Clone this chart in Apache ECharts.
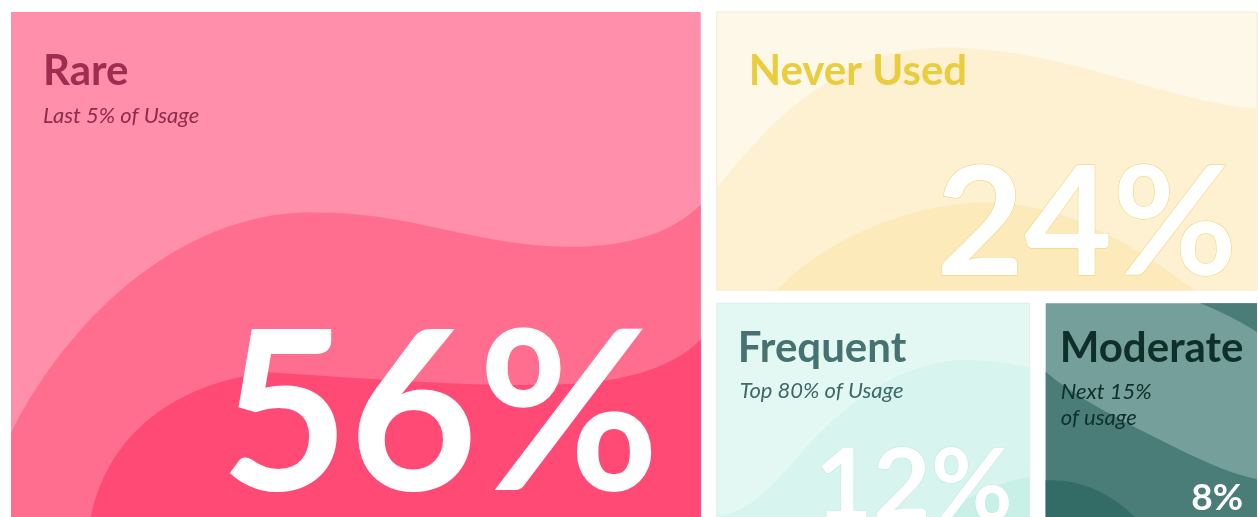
<!DOCTYPE html>
<html>
<head>
<meta charset="utf-8">
<script src="https://cdn.jsdelivr.net/npm/echarts@6/dist/echarts.min.js"></script>
<style>html,body{margin:0;padding:0;background:#fff}#c{width:1258px;height:517px}</style>
</head>
<body>
<div id="c"></div>
<script>
// ---- data ----
const categories = ['Rare', 'Never Used', 'Frequent', 'Moderate'];
const shares = [56, 24, 12, 8];
const subtitles = ['Last 5% of Usage', '', 'Top 80% of Usage', 'Next 15%\nof usage'];

// ---- style (decoration, fonts, colours) ----
const FONT = 'Lato, "Open Sans", sans-serif';
const GAP_X = 16, GAP_Y = 13;
const boxStyle = [
  { // Rare
    ref: [690, 523], bg: '#FF8FAB', border: null,
    layers: [
      { fill: '#FF6E8F', d: 'M0 422 C45 330 149 208 290 201 C389 198 439 226 529 234 C609 240 659 223 690 193 L690 523 L0 523 Z' },
      { fill: '#FF4A76', d: 'M77 523 C89 428 159 373 257 361 C369 368 509 380 589 370 C639 364 674 346 690 328 L690 523 Z' }
    ],
    title: { color: '#9E2D4F', size: 42, x: 32, y: 58 },
    sub: { color: '#8F2B4B', size: 22, x: 32, y: 102.5, lh: 26 },
    num: { size: 222, right: 41, bottom: 126, stroke: null }
  },
  { // Never Used
    ref: [540, 278], bg: '#FEF8E8', border: '#F2EAD2',
    layers: [
      { fill: '#FEF1D2', d: 'M0 176 C30 140 65 95 120 65 C160 38 210 34 250 36 C320 40 380 60 446 78 C490 90 520 96 540 96 L540 278 L0 278 Z' },
      { fill: '#FDEABA', d: 'M60 278 C100 235 180 192 268 190 C350 190 420 235 478 278 Z' }
    ],
    title: { color: '#E9CD3E', size: 42, x: 32, y: 58 },
    sub: null,
    num: { size: 152, right: 20, bottom: 71, stroke: '#EBD36B' }
  },
  { // Frequent
    ref: [311, 232], bg: '#E3F8F3', border: '#D9F0EA',
    layers: [
      { fill: '#D7F5EE', d: 'M0 214 C30 210 50 190 80 155 C140 85 200 55 253 57 C280 58 300 62 311 64 L311 232 L0 232 Z' },
      { fill: '#C8F0E6', d: 'M205 232 C230 205 270 180 311 175 L311 232 Z' }
    ],
    title: { color: '#467272', size: 42, x: 21, y: 43.5 },
    sub: { color: '#3F6868', size: 22, x: 23, y: 87, lh: 26 },
    num: { size: 100, right: 17, bottom: 51, stroke: '#BFE6DD' }
  },
  { // Moderate
    ref: [212, 232], bg: '#759F9A', border: null,
    layers: [
      { fill: '#4A7D77', d: 'M155 0 C175 8 195 18 212 29 L212 0 Z' },
      { fill: '#4A7D77', d: 'M0 69 C30 95 80 120 118 139 C150 155 180 170 212 177 L212 232 L0 232 Z' },
      { fill: '#336C67', d: 'M0 178 C40 176 75 195 105 232 L0 232 Z' }
    ],
    title: { color: '#0F2F2B', size: 42, x: 14, y: 43.5 },
    sub: { color: '#102F2B', size: 22, x: 15, y: 87.5, lh: 26 },
    num: { size: 37, right: 14, bottom: 37.5, stroke: null }
  }
];
const V_CORR = 0.045; // cap-centre correction for 'middle' alignment, in em

// ---- slice-and-dice layout of the shares (in 0..100 axis units) ----
function sliceLayout(vals) {
  const out = [];
  let rect = { x0: 0, y0: 0, x1: 100, y1: 100 };
  let rest = vals.reduce((a, b) => a + b, 0);
  let vertical = true;
  vals.forEach((v, i) => {
    const f = i === vals.length - 1 ? 1 : v / rest;
    let r;
    if (vertical) {
      const xm = rect.x0 + (rect.x1 - rect.x0) * f;
      r = { x0: rect.x0, y0: rect.y0, x1: xm, y1: rect.y1 };
      rect = { x0: xm, y0: rect.y0, x1: rect.x1, y1: rect.y1 };
    } else {
      const ym = rect.y0 + (rect.y1 - rect.y0) * f;
      r = { x0: rect.x0, y0: rect.y0, x1: rect.x1, y1: ym };
      rect = { x0: rect.x0, y0: ym, x1: rect.x1, y1: rect.y1 };
    }
    out.push([r.x0, r.y0, r.x1, r.y1, v, i]);
    rest -= v;
    vertical = !vertical;
  });
  return out;
}
const layoutData = sliceLayout(shares);

function scalePath(d, x0, y0, sx, sy) {
  let k = 0;
  return d.replace(/-?\d+(\.\d+)?/g, m => {
    const v = parseFloat(m);
    const r = (k % 2 === 0) ? x0 + v * sx : y0 + v * sy;
    k++;
    return r.toFixed(2);
  });
}

function renderItem(params, api) {
  const a0 = api.value(0), b0 = api.value(1), a1 = api.value(2), b1 = api.value(3);
  const val = api.value(4), idx = api.value(5);
  const p0 = api.coord([a0, b0]);
  const p1 = api.coord([a1, b1]);
  let x0 = Math.min(p0[0], p1[0]), x1 = Math.max(p0[0], p1[0]);
  let y0 = Math.min(p0[1], p1[1]), y1 = Math.max(p0[1], p1[1]);
  if (a0 > 0) x0 += GAP_X / 2;
  if (a1 < 100) x1 -= GAP_X / 2;
  if (b0 > 0) y0 += GAP_Y / 2;
  if (b1 < 100) y1 -= GAP_Y / 2;
  const w = x1 - x0, h = y1 - y0;
  const st = boxStyle[idx];
  const sx = w / st.ref[0], sy = h / st.ref[1];
  const children = [];
  children.push({
    type: 'rect', shape: { x: x0, y: y0, width: w, height: h },
    style: { fill: st.bg, stroke: st.border || null, lineWidth: st.border ? 1 : 0 }
  });
  st.layers.forEach(L => {
    children.push({ type: 'path', shape: { pathData: scalePath(L.d, x0, y0, sx, sy) }, style: { fill: L.fill } });
  });
  children.push({
    type: 'text',
    style: {
      text: categories[idx], x: x0 + st.title.x, y: y0 + st.title.y + V_CORR * st.title.size,
      fill: st.title.color, font: 'bold ' + st.title.size + 'px ' + FONT,
      textAlign: 'left', verticalAlign: 'middle'
    }
  });
  if (st.sub && subtitles[idx]) {
    subtitles[idx].split('\n').forEach((line, li) => {
      children.push({
        type: 'text',
        style: {
          text: line, x: x0 + st.sub.x, y: y0 + st.sub.y + li * st.sub.lh + V_CORR * st.sub.size,
          fill: st.sub.color, font: 'italic ' + st.sub.size + 'px ' + FONT,
          textAlign: 'left', verticalAlign: 'middle'
        }
      });
    });
  }
  const numStyle = {
    text: val + '%', x: x1 - st.num.right, y: y1 - st.num.bottom + V_CORR * st.num.size,
    fill: '#FFFFFF', font: 'bold ' + st.num.size + 'px ' + FONT,
    textAlign: 'right', verticalAlign: 'middle'
  };
  if (st.num.stroke) { numStyle.stroke = st.num.stroke; numStyle.lineWidth = 1; }
  children.push({ type: 'text', style: numStyle });
  return { type: 'group', children };
}

const chart = echarts.init(document.getElementById('c'), null, { renderer: 'canvas' });
chart.setOption({
  animation: false,
  backgroundColor: '#FFFFFF',
  grid: { left: 11, top: 12, width: 1246, height: 522, outerBoundsMode: 'none', containLabel: false },
  xAxis: { type: 'value', min: 0, max: 100, show: false },
  yAxis: { type: 'value', min: 0, max: 100, inverse: true, show: false },
  series: [{
    type: 'custom',
    renderItem: renderItem,
    encode: { x: [0, 2], y: [1, 3] },
    data: layoutData,
    clip: false
  }]
});
</script>
</body>
</html>
